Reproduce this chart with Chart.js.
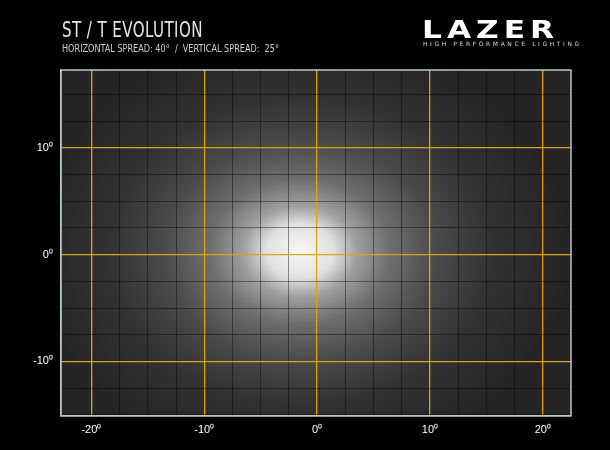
<!DOCTYPE html>
<html>
<head>
<meta charset="utf-8">
<script src="https://cdn.jsdelivr.net/npm/chart.js@4.4.0/dist/chart.umd.min.js"></script>
<style>
  body { margin: 0; background: #000; }
  #wrap { position: relative; width: 610px; height: 450px; background: #000; }
  #title { position: absolute; left: 62px; top: 18px; color: #e6e6e6; font-family: "Liberation Sans Narrow", "DejaVu Sans Condensed", sans-serif; font-size: 21px; transform: scaleX(0.8); transform-origin: left; letter-spacing: 0.5px; }
  #sub { position: absolute; left: 62px; top: 42px; color: #cfcfcf; font-family: "Liberation Sans Narrow", "DejaVu Sans Condensed", sans-serif; font-size: 11px; transform: scaleX(0.82); transform-origin: left; }
  #logo { position: absolute; left: 422px; top: 15px; color: #fff; font-family: "DejaVu Sans", sans-serif; font-weight: bold; font-size: 25px; letter-spacing: 4px; transform: scaleX(1.25); transform-origin: left; }
  #logosub { position: absolute; left: 423px; top: 40px; color: #ddd; font-family: "DejaVu Sans", sans-serif; font-size: 6px; letter-spacing: 2.6px; }
  canvas { position: absolute; left: 0; top: 0; }
</style>
</head>
<body>
<div id="wrap">
  <canvas id="c" width="610" height="450"></canvas>
  <div id="title">ST / T EVOLUTION</div>
  <div id="sub">HORIZONTAL SPREAD: 40° &nbsp;/ &nbsp;VERTICAL SPREAD: &nbsp;25°</div>
  <div id="logo">LAZER</div>
  <div id="logosub">HIGH PERFORMANCE LIGHTING</div>
</div>
<script>
// axis ranges (degrees)
const xRange = [-22.7, 22.5];
const yRange = [-15.1, 17.3];
const xTicks = [-20, -17.5, -15, -12.5, -10, -7.5, -5, -2.5, 0, 2.5, 5, 7.5, 10, 12.5, 15, 17.5, 20];
const yTicks = [-15, -12.5, -10, -7.5, -5, -2.5, 0, 2.5, 5, 7.5, 10, 12.5, 15];
const majorTicks = [-20, -10, 0, 10, 20];

// beam hot spot (degrees) and intensity falloff: radius in degrees -> gray level
const beamCenter = { x: -1.5, y: 0.3 };
const beamRadiusX = [0, 3, 5, 8, 12, 17, 24];
const beamGray = [248, 225, 160, 110, 75, 50, 36];
const beamAspect = 0.8; // vertical / horizontal

const isMajor = v => majorTicks.includes(v);

const beamPlugin = {
  id: 'beam',
  beforeDraw(chart) {
    const { ctx, chartArea: a, scales: { x, y } } = chart;
    const cx = x.getPixelForValue(beamCenter.x);
    const cy = y.getPixelForValue(beamCenter.y);
    const pxPerDeg = x.getPixelForValue(1) - x.getPixelForValue(0);
    const rMax = beamRadiusX[beamRadiusX.length - 1] * pxPerDeg;
    ctx.save();
    ctx.beginPath();
    ctx.rect(a.left, a.top, a.right - a.left, a.bottom - a.top);
    ctx.clip();
    ctx.fillStyle = 'rgb(30,30,30)';
    ctx.fillRect(a.left, a.top, a.right - a.left, a.bottom - a.top);
    ctx.translate(cx, cy);
    ctx.scale(1, beamAspect);
    const g = ctx.createRadialGradient(0, 0, 0, 0, 0, rMax);
    beamRadiusX.forEach((r, i) => {
      const v = beamGray[i];
      g.addColorStop(r / beamRadiusX[beamRadiusX.length - 1], `rgb(${v},${v},${v})`);
    });
    ctx.fillStyle = g;
    ctx.fillRect(-rMax * 2, -rMax * 2, rMax * 4, rMax * 4);
    ctx.restore();
  }
};

const gridOpts = (ticks) => ({
  afterBuildTicks: s => { s.ticks = ticks.map(v => ({ value: v })); },
  grid: {
    drawTicks: false,
    color: c => isMajor(c.tick.value) ? '#d9a514' : 'rgba(0,0,0,0.42)',
    lineWidth: c => isMajor(c.tick.value) ? 1.3 : 1
  },
  border: { display: true, color: '#b8c8c0', width: 1.5 },
  ticks: {
    color: '#ffffff',
    font: { family: 'Liberation Sans', size: 11 },
    autoSkip: false,
    maxRotation: 0,
    callback: v => isMajor(v) ? v + '⁰' : ''
  }
});

const xOpts = gridOpts(xTicks);
xOpts.type = 'linear'; xOpts.min = xRange[0]; xOpts.max = xRange[1];
xOpts.ticks.padding = 8;
const yOpts = gridOpts(yTicks);
yOpts.type = 'linear'; yOpts.min = yRange[0]; yOpts.max = yRange[1];
yOpts.ticks.padding = 8;

new Chart(document.getElementById('c'), {
  type: 'scatter',
  data: { datasets: [{ data: [beamCenter], pointRadius: 0 }] },
  options: {
    responsive: false,
    animation: false,
    layout: { padding: { left: 25, top: 70, right: 39, bottom: 5 } },
    plugins: { legend: { display: false }, tooltip: { enabled: false } },
    scales: { x: xOpts, y: yOpts }
  },
  plugins: [beamPlugin, {
    id: 'frame',
    afterDraw(chart) {
      const { ctx, chartArea: a } = chart;
      ctx.save();
      ctx.strokeStyle = '#b8c8c0';
      ctx.lineWidth = 1.5;
      ctx.strokeRect(a.left, a.top, a.right - a.left, a.bottom - a.top);
      ctx.restore();
    }
  }]
});
</script>
</body>
</html>
